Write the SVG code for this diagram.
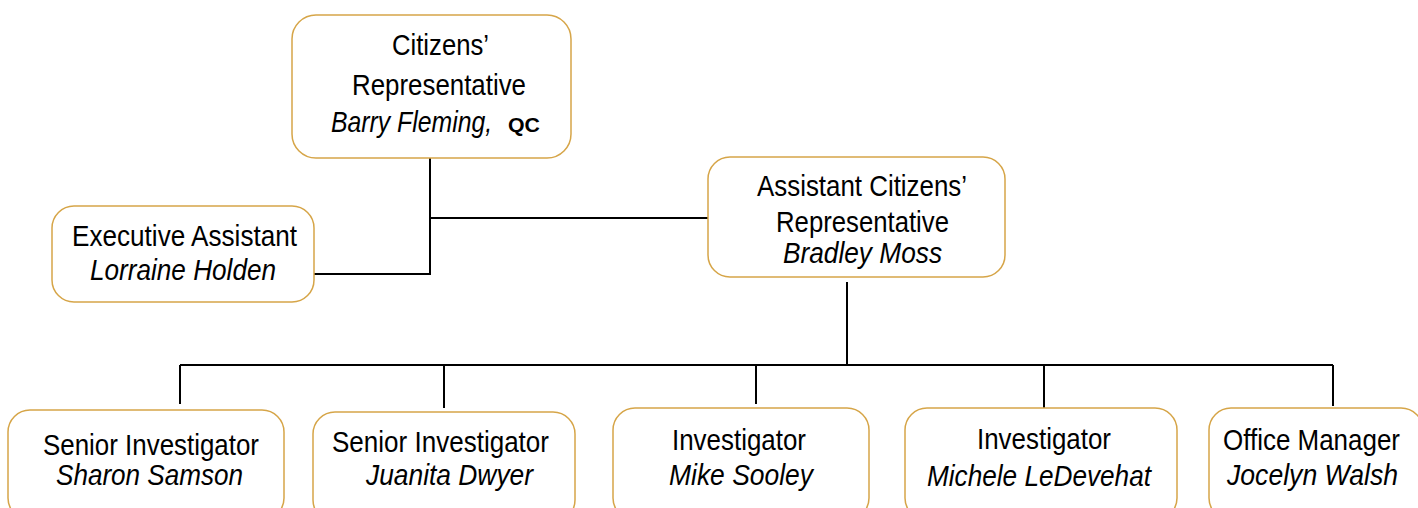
<svg xmlns="http://www.w3.org/2000/svg" width="1418" height="508" viewBox="0 0 1418 508">
<style>
.box{fill:#fff;stroke:#D6A548;stroke-width:1.5}
.conn{fill:none;stroke:#000;stroke-width:2}
text{font-family:"Liberation Sans Narrow","Liberation Sans",Arial,sans-serif;font-size:29px;fill:#000}
.nm{font-style:italic}
.qc{font-weight:bold;font-style:normal;font-size:21px}
</style>
<rect width="1418" height="508" fill="#fff"/>
<g id="connectors">
<path class="conn" d="M430 158V274H314M430 218H708"/>
<path class="conn" d="M847 282V365M180 365H1333M180 365V404M444 365V408M756 365V404M1044 365V408M1333 365V406"/>
</g>
<g id="citizens-rep">
<rect class="box" x="292" y="15" width="279" height="143" rx="24"/>
<text x="392" y="55" textLength="97" lengthAdjust="spacingAndGlyphs">Citizens’</text>
<text x="352" y="95" textLength="174" lengthAdjust="spacingAndGlyphs">Representative</text>
<text class="nm" x="0" y="0" transform="matrix(0.855 0 0 1 331 132)">Barry Fleming,</text>
<text class="qc" x="508" y="132" textLength="32" lengthAdjust="spacingAndGlyphs">QC</text>
</g>
<g id="exec-assistant">
<rect class="box" x="52" y="206" width="262" height="96" rx="22"/>
<text x="72" y="246" textLength="225" lengthAdjust="spacingAndGlyphs">Executive Assistant</text>
<text class="nm" x="90" y="280" textLength="186" lengthAdjust="spacingAndGlyphs">Lorraine Holden</text>
</g>
<g id="assistant-rep">
<rect class="box" x="708" y="157" width="297" height="120" rx="22"/>
<text x="757" y="196" textLength="210" lengthAdjust="spacingAndGlyphs">Assistant Citizens’</text>
<text x="776" y="232" textLength="173" lengthAdjust="spacingAndGlyphs">Representative</text>
<text class="nm" x="783" y="263" textLength="159" lengthAdjust="spacingAndGlyphs">Bradley Moss</text>
</g>
<g id="senior-inv-1">
<rect class="box" x="8" y="410" width="276" height="110" rx="22"/>
<text x="43" y="455" textLength="216" lengthAdjust="spacingAndGlyphs">Senior Investigator</text>
<text class="nm" x="56" y="485" textLength="187" lengthAdjust="spacingAndGlyphs">Sharon Samson</text>
</g>
<g id="senior-inv-2">
<rect class="box" x="313" y="412" width="262" height="110" rx="22"/>
<text x="332" y="452" textLength="217" lengthAdjust="spacingAndGlyphs">Senior Investigator</text>
<text class="nm" x="366" y="485" textLength="167" lengthAdjust="spacingAndGlyphs">Juanita Dwyer</text>
</g>
<g id="investigator-1">
<rect class="box" x="613" y="408" width="256" height="112" rx="22"/>
<text x="672" y="450" textLength="134" lengthAdjust="spacingAndGlyphs">Investigator</text>
<text class="nm" x="669" y="485" textLength="144" lengthAdjust="spacingAndGlyphs">Mike Sooley</text>
</g>
<g id="investigator-2">
<rect class="box" x="905" y="408" width="272" height="112" rx="22"/>
<text x="977" y="449" textLength="134" lengthAdjust="spacingAndGlyphs">Investigator</text>
<text class="nm" x="927" y="486" textLength="224" lengthAdjust="spacingAndGlyphs">Michele LeDevehat</text>
</g>
<g id="office-manager">
<rect class="box" x="1209" y="408" width="214" height="112" rx="22"/>
<text x="1223" y="450" textLength="177" lengthAdjust="spacingAndGlyphs">Office Manager</text>
<text class="nm" x="1227" y="485" textLength="171" lengthAdjust="spacingAndGlyphs">Jocelyn Walsh</text>
</g>
</svg>
